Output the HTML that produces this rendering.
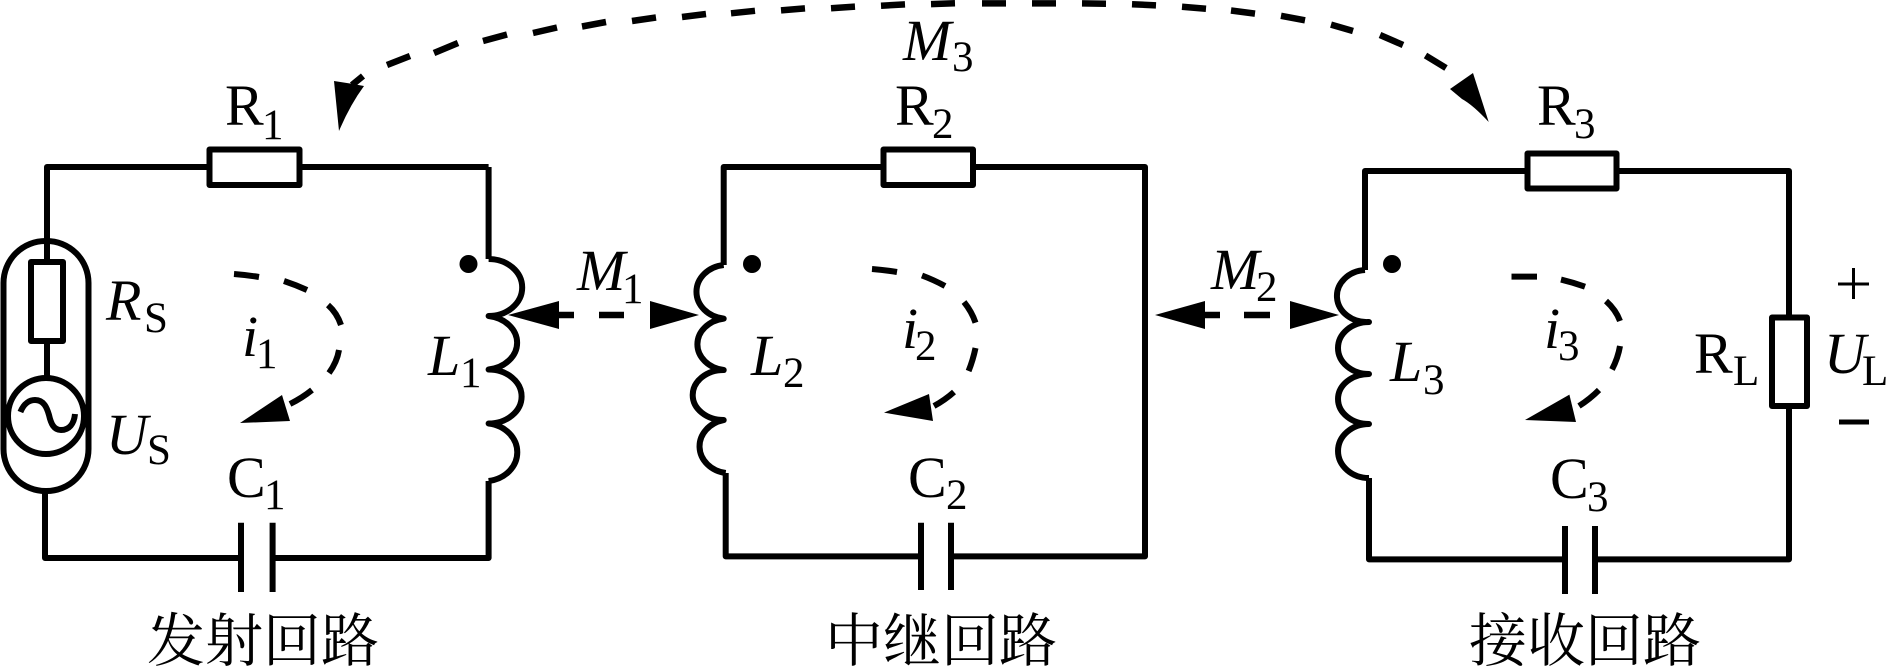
<!DOCTYPE html>
<html><head><meta charset="utf-8">
<style>
html,body{margin:0;padding:0;background:#fff;width:1887px;height:668px;overflow:hidden}
svg{display:block}
text{font-family:"Liberation Serif","Noto Serif CJK SC",serif;fill:#000}
.m{font-size:58px}.s{font-size:43px}.i{font-style:italic}
.c{font-size:58px}
.w{fill:none;stroke:#000;stroke-width:6;stroke-linejoin:round}
.d{fill:none;stroke:#000;stroke-width:6.5}
.b{fill:#fff;stroke:#000;stroke-width:6;stroke-linejoin:round}
</style></head><body>
<svg width="1887" height="668" viewBox="0 0 1887 668" xmlns="http://www.w3.org/2000/svg">
<!-- top dashed arc -->
<path class="d" d="M352 85L363 76M387 65L410 56M434 53L458 43M483 41L507 34.5M533 33L557 27.5M582 26.5L606 22M632 21L656 17.5M682 17L706 14M731 13.3L755 10.8M781 10.4L805 8.4M831 8.2L855 6.6M881 5.7L905 4.4M931 4.1L955 3.3M982 3.4L1006 3.4M1032 3.4L1056 3.4M1082 3.4L1106 3.7M1132 4.2L1156 5.4M1182 6.8L1206 8.8M1231 10.5L1255 13.6M1281 15.8L1305 20.3M1331 24.6L1353 31M1380 35L1403 45M1425.5 55.5L1446 68"/>
<path d="M339 131L334 81L350 83.5L364 86Q350 105 339 131Z"/>
<path d="M1488.7 122L1473 73L1450 89L1462 99Q1473 105 1488.7 122Z"/>
<text class="m i" x="903" y="60">M</text><text class="s" x="952" y="71">3</text>

<!-- loop 1 -->
<path class="w" d="M209 167H47V241M47 262V241M47 341V376M45 491V558H241M272.6 558H488.6V481M488.6 167H299M488.6 167V259"/>
<path class="w" d="M488.6 259A33 28 0 0 1 488.6 316A33 27 0 0 1 488.6 369.5A33 27 0 0 1 488.6 423.5A33 29 0 0 1 488.6 481"/>
<rect class="b" x="209.5" y="149.5" width="90" height="35.5"/>
<rect class="w" x="3.5" y="241" width="85" height="250" rx="42" ry="42"/>
<rect class="b" x="31" y="262" width="32" height="79"/>
<circle class="w" cx="46" cy="416" r="38"/>
<path class="w" d="M20.4 412C24 403 30 400 35 400C44 400 47 408 49 415C51 424 54 430 61 430C69 430 74 424 75 414"/>
<path class="w" d="M241 522.7V592M272.6 522.7V592"/>
<circle cx="468.5" cy="264" r="9"/>
<path class="d" style="stroke-width:6" d="M234 274Q247 275 259 277M284 281Q296 285 307 290M328 305Q337 313 341 325M339 350Q337 362 329 373M312 390Q302 398 290 404"/>
<polygon points="240,423 282,395 290,421"/>
<polygon points="508,315 559,301 559,329"/>
<polygon points="699,315 650,301 650,329"/>
<path class="d" d="M559 315H574M599 315H624"/>

<text class="m" x="225" y="125">R</text><text class="s" x="262" y="139">1</text>
<text class="m i" x="106" y="320">R</text><text class="s" x="144" y="332">S</text>
<text class="m i" x="106" y="454">U</text><text class="s" x="147" y="464">S</text>
<text class="m i" x="242" y="356">i</text><text class="s" x="256" y="368">1</text>
<text class="m i" x="428" y="375">L</text><text class="s" x="460" y="387">1</text>
<text class="m" x="227" y="497">C</text><text class="s" x="264" y="509">1</text>
<text class="m i" x="577" y="290">M</text><text class="s" x="622" y="303">1</text>
<text class="c" x="147" y="661">发射回路</text>

<!-- loop 2 -->
<path class="w" d="M884 167H723.7V265M725.7 473V556.4H921M951 556.4H1145V167H973"/>
<path class="w" d="M723.7 265A31 27 0 0 0 723.7 318.6A31 26 0 0 0 723.7 370A31 25 0 0 0 723.7 420A31 27 0 0 0 725.7 473"/>
<rect class="b" x="883.5" y="149.5" width="89.5" height="35.5"/>
<path class="w" d="M921 522.7V590M951 522.7V590"/>
<circle cx="752" cy="264" r="9"/>
<path class="d" style="stroke-width:6" d="M872 269Q885 270 897 272M922 275.5Q934 280 945 286M964 302Q972 312 975.5 322.7M975.5 348Q973 360 968.6 371M954 392Q945 400 934 406"/>
<polygon points="884,412.6 929,394 933,421"/>
<polygon points="1155,315 1205,301 1205,329"/>
<polygon points="1339,315 1290,301 1290,329"/>
<path class="d" d="M1205 315H1220M1244 315H1270"/>

<text class="m" x="895" y="125">R</text><text class="s" x="932" y="138">2</text>
<text class="m i" x="751" y="375">L</text><text class="s" x="783" y="387">2</text>
<text class="m i" x="902" y="348">i</text><text class="s" x="915" y="360">2</text>
<text class="m" x="908" y="497">C</text><text class="s" x="946" y="509">2</text>
<text class="m i" x="1211" y="289">M</text><text class="s" x="1256" y="301">2</text>
<text class="c" x="825" y="661">中继回路</text>

<!-- loop 3 -->
<path class="w" d="M1528 171H1365V270M1369 478V559.4H1565M1595 559.4H1789V406M1789 317.5V171H1616"/>
<path class="w" d="M1365 270A30 26 0 0 0 1369 322A31 26 0 0 0 1369 374A31 25 0 0 0 1369 424A31 27 0 0 0 1369 478"/>
<rect class="b" x="1527.5" y="153.5" width="89" height="35"/>
<rect class="b" x="1772" y="317.5" width="35" height="88.5"/>
<path class="w" d="M1565 526V594M1595 526V594"/>
<circle cx="1392" cy="264" r="9"/>
<path class="d" style="stroke-width:6" d="M1511.5 276.6L1537 276.6M1561 279.6Q1573 282.5 1585 286.7M1606 301Q1616 310 1620 321M1620 346Q1618 358 1612 369.5M1599 390Q1590 399 1579 406"/>
<polygon points="1525,420 1569.4,394.6 1576,422"/>
<path d="M1838 284H1869M1853.5 268V299" fill="none" stroke="#000" stroke-width="3"/>
<path d="M1839 422H1869" fill="none" stroke="#000" stroke-width="5"/>

<text class="m" x="1537" y="125">R</text><text class="s" x="1574" y="138">3</text>
<text class="m i" x="1390" y="381">L</text><text class="s" x="1423" y="394">3</text>
<text class="m i" x="1544" y="348">i</text><text class="s" x="1558" y="360">3</text>
<text class="m" x="1550" y="498">C</text><text class="s" x="1587" y="511">3</text>
<text class="m" x="1694" y="373">R</text><text class="s" x="1733" y="385">L</text>
<text class="m i" x="1824" y="373">U</text><text class="s" x="1862" y="385">L</text>
<text class="c" x="1469" y="661">接收回路</text>
</svg>
</body></html>
